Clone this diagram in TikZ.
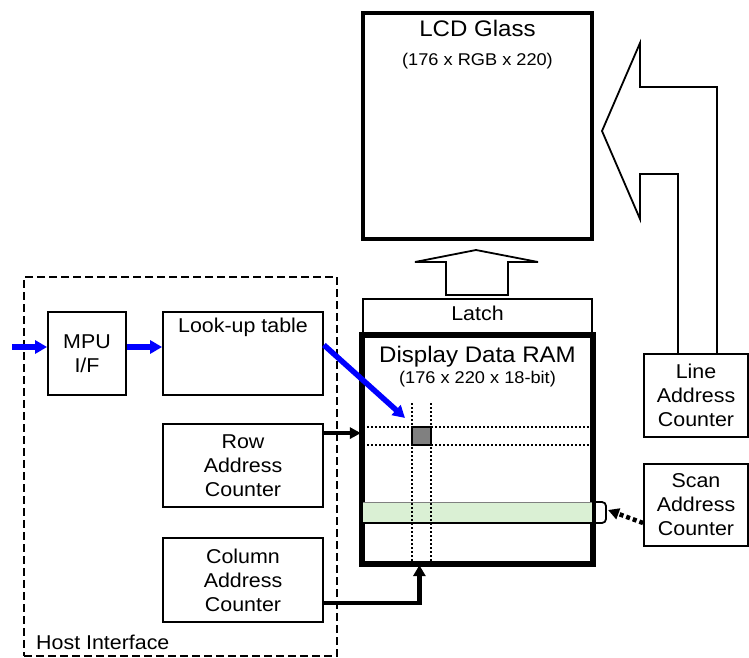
\documentclass[tikz,border=0pt]{standalone}
\usepackage{fontspec}
\setmainfont{Liberation Sans}[FakeStretch=1.07]
\usetikzlibrary{arrows.meta,calc}
\definecolor{bandgreen}{RGB}{218,240,212}
\definecolor{cellgray}{RGB}{128,128,128}
\begin{document}
\begin{tikzpicture}[x=1pt,y=-1pt,
  box/.style={draw, line width=1.8pt, inner sep=0pt, align=center, font=\fontsize{20}{24}\selectfont},
  heavy/.style={draw, line width=4.2pt, inner sep=0pt},
  title/.style={anchor=base, font=\fontsize{22.5}{26}\selectfont, inner sep=0pt},
  sub/.style={anchor=base, font=\fontsize{17}{20}\selectfont, inner sep=0pt},
  lbl/.style={anchor=base, font=\fontsize{20}{24}\selectfont, inner sep=0pt},
  dots/.style={line width=2.2pt, dash pattern=on 2.2pt off 1.8pt},
  bluearrow/.style={draw=blue, line width=5.5pt, -{Triangle[length=12pt,width=13pt]}},
  blackarrow/.style={line width=3.5pt, -{Triangle[length=11pt,width=11pt]}},
  hollow/.style={draw, line width=1.8pt, line join=miter, fill=white}
]
\fill[white] (0,0) rectangle (749,658);
\useasboundingbox (0,0) rectangle (749,658);

% Host interface container
\node[draw, line width=2.8pt, dash pattern=on 8pt off 4pt, minimum width=313pt, minimum height=379pt, inner sep=0pt] (host) at (180.5,466.5) {};
\node[lbl, anchor=base west] (hostt) at (36,649) {Host Interface};

% LCD glass
\node[heavy, minimum width=229pt, minimum height=226pt] (lcd) at (477.5,126) {};
\node[title] (lcdt) at (477.5,37) {LCD Glass};
\node[sub] (lcds) at (477.5,66) {(176 x RGB x 220)};

% Latch
\node[box, minimum width=229pt, minimum height=37pt] (latch) at (477.5,317.5) {};
\node[lbl] (latcht) at (477.5,320) {Latch};

% Display data RAM
\node[heavy, minimum width=229pt, minimum height=227pt] (ram) at (477.5,449.5) {};
\fill[bandgreen] (363,502) rectangle (592,523);
\draw[line width=1pt, gray] (363,502) -- (592,502);
\draw[line width=1.4pt] (363,523) -- (592,523);
\draw[dots] (363,427) -- (592,427);
\draw[dots] (363,445) -- (592,445);
\draw[dots] (412,403) -- (412,563);
\draw[dots] (431,403) -- (431,563);
\draw[line width=1.8pt, fill=cellgray] (412,427) rectangle (431,445);
\draw[line width=4.2pt] (ram.south west) rectangle (ram.north east);
\node[title] (ramt) at (477.5,362) {Display Data RAM};
\node[sub] (rams) at (477.5,383) {(176 x 220 x 18-bit)};

% Hollow arrows
\draw[hollow] (446,295) -- (446,262) -- (415,262) -- (476,250) -- (538,262) -- (508,262) -- (508,295) -- cycle;
\draw[hollow] (678,354) -- (678,174) -- (640,174) -- (640,219) -- (602,131) -- (640,43) -- (640,87) -- (717,87) -- (717,354);

% Boxes
\node[box, minimum width=78pt, minimum height=83pt] (mpu) at (87,353.5) {MPU\\I/F};
\node[box, minimum width=160pt, minimum height=83pt] (lut) at (243,353.5) {};
\node[lbl] (lutt) at (243,332.7) {Look-up table};
\node[box, minimum width=160pt, minimum height=83pt] (row) at (243,465.5) {Row\\Address\\Counter};
\node[box, minimum width=160pt, minimum height=84pt] (col) at (243,580) {Column\\Address\\Counter};
\node[box, minimum width=104pt, minimum height=83pt] (line) at (696,395.5) {Line\\Address\\Counter};
\node[box, minimum width=104pt, minimum height=82pt] (scan) at (696,505) {Scan\\Address\\Counter};

% Connectors
\coordinate (inA) at (12,347);
\draw[bluearrow] (inA) -- (inA -| mpu.west);
\draw[bluearrow] (mpu.east |- inA) -- (lut.west |- inA);
\coordinate (cellA) at (405,418);
\draw[bluearrow] ([yshift=8.5pt]lut.east) -- (cellA);

\coordinate (rowout) at ([yshift=-10pt]row.north east);
\draw[blackarrow] (rowout) -- (rowout -| ram.west);

\coordinate (colout) at ([yshift=20pt]col.south east);
\coordinate (ramin) at ($(ram.south west)+(58.5,0)$);
\draw[line width=4.5pt, -{Triangle[length=11pt,width=12pt]}] (colout) -| (ramin);

\coordinate (scanout) at ([yshift=-18pt]scan.west);
\coordinate (brk) at (608,510);
\draw[line width=4.5pt, dash pattern=on 4pt off 3pt, -{Triangle[length=11pt,width=11pt]}] (scanout) -- (brk);
\draw[line width=1.8pt, rounded corners=4pt] (596,502) -- (606,502) -- (606,523) -- (596,523);
\end{tikzpicture}
\end{document}
